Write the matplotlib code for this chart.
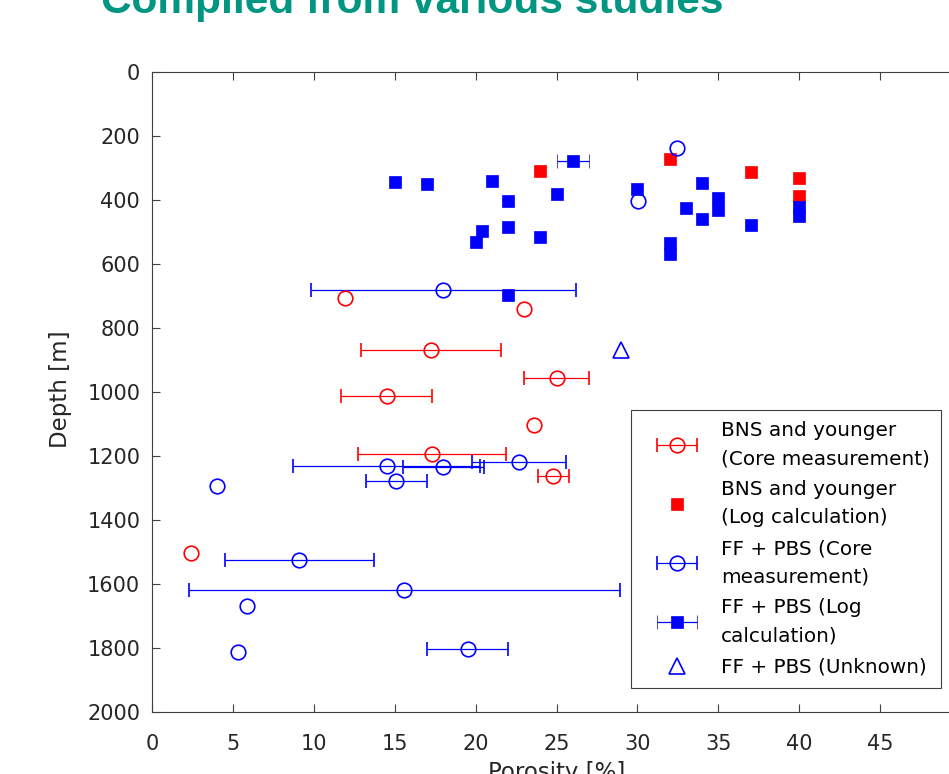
import numpy as np
import matplotlib
matplotlib.use("Agg")
import matplotlib.pyplot as plt
from matplotlib.legend_handler import HandlerErrorbar

plt.rcParams['font.family'] = ['DejaVu Sans']

nan = np.nan

# BNS and younger (Core measurement)
bns_core_x = [11.9, 23.0, 17.25, 25.0, 14.5, 23.6, 17.3, 24.8, 2.4]
bns_core_depth = [705, 742, 868, 955, 1012, 1102, 1193, 1262, 1504]
bns_core_xerr = [nan, nan, 4.35, 2.0, 2.8, nan, 4.55, 0.95, nan]

# BNS and younger (Log calculation)
bns_log_x = [24, 32, 37, 40, 40]
bns_log_depth = [310, 273, 313, 332, 386]

# FF + PBS (Core measurement)
ff_core_x = [32.45, 30.05, 18.0, 22.7, 14.5, 18.0, 15.1, 4.0, 9.1, 15.6, 5.85, 5.3, 19.5]
ff_core_depth = [238, 403, 681, 1218, 1230, 1235, 1277, 1294, 1525, 1620, 1669, 1811, 1803]
ff_core_xerr = [nan, nan, 8.2, 2.9, 5.8, 2.5, 1.9, nan, 4.6, 13.3, nan, nan, 2.5]

# FF + PBS (Log calculation)
ff_log_x = [15, 17, 21, 22, 25, 26, 20.4, 20, 22, 24, 30, 34, 33, 34, 35, 35, 37, 32, 32, 40, 40, 22]
ff_log_depth = [345, 350, 342, 402, 381, 277, 496, 532, 485, 516, 366, 347, 424, 458, 395, 430,
                479, 533, 570, 422, 451, 698]
ff_log_xerr = [nan, nan, nan, nan, nan, 1.0, nan, nan, nan, nan, nan, nan, nan, nan, nan, nan,
               nan, nan, nan, nan, nan, nan]

# FF + PBS (Unknown)
ff_unk_x = [29.0]
ff_unk_depth = [868]

labels = ["BNS and younger\n(Core measurement)",
          "BNS and younger\n(Log calculation)",
          "FF + PBS (Core\nmeasurement)",
          "FF + PBS (Log\ncalculation)",
          "FF + PBS (Unknown)"]

xticks = list(range(0, 51, 5))
yticks = list(range(0, 2001, 200))

RED = '#ff0000'
BLUE = '#0000ff'
AX = '#404040'
TXT = '#262626'

fig = plt.figure(figsize=(9.49, 7.74), dpi=100)
ax = fig.add_axes([152 / 949, (774 - 712) / 774, 809 / 949, 640 / 774])

eb_kw = dict(linestyle='none', elinewidth=0.9, capsize=5, capthick=0.9)

h1 = ax.errorbar(bns_core_x, bns_core_depth, xerr=bns_core_xerr, fmt='o', color=RED,
                 mfc='none', mec=RED, ms=10.5, mew=1.2, **eb_kw)
h2, = ax.plot(bns_log_x, bns_log_depth, 's', color=RED, ms=9.3, mew=0.5, linestyle='none')
h3 = ax.errorbar(ff_core_x, ff_core_depth, xerr=ff_core_xerr, fmt='o', color=BLUE,
                 mfc='none', mec=BLUE, ms=10.5, mew=1.2, **eb_kw)
h4 = ax.errorbar(ff_log_x, ff_log_depth, xerr=ff_log_xerr, fmt='s', color=BLUE,
                 mfc=BLUE, mec=BLUE, ms=9.3, mew=0.5, **eb_kw)
h5, = ax.plot(ff_unk_x, ff_unk_depth, '^', color=BLUE, mfc='none', mec=BLUE, ms=11, mew=1.2,
              linestyle='none')

ax.set_xlim(0, 50)
ax.set_ylim(2000, 0)
ax.set_xticks(xticks)
ax.set_yticks(yticks)

for s in ax.spines.values():
    s.set_color(AX)
    s.set_linewidth(0.8)

ax.tick_params(axis='both', direction='in', length=5.8, width=0.8, color=AX,
               labelcolor=TXT, labelsize=15, top=True, right=True)
ax.tick_params(axis='x', pad=15.8)
ax.tick_params(axis='y', pad=8.5)

ax.set_xlabel("Porosity [%]", fontsize=16.5, color=TXT)
ax.xaxis.set_label_coords(0.5, -0.077)
ax.set_ylabel("Depth [m]", fontsize=16.5, color=TXT)
ax.yaxis.set_label_coords(-0.099, 0.505)

leg = ax.legend([h1, h2, h3, h4, h5], labels, loc='upper left',
                bbox_to_anchor=(0.5926, 0.472), borderaxespad=0,
                fontsize=14.4, frameon=True, fancybox=False, framealpha=1,
                edgecolor=AX, borderpad=0.55, handlelength=3.45, handletextpad=0.48,
                labelspacing=0.6, numpoints=1,
                handler_map={type(h1): HandlerErrorbar(xerr_size=1.0)})
leg.get_frame().set_linewidth(0.8)
for t in leg.get_texts():
    t.set_linespacing(1.61)
    t.set_color('#000000')

fig.text(101 / 949, 1 - 13 / 774, "Compiled from various studies", ha='left', va='baseline',
         fontsize=30.5, fontweight='bold', color='#009682', family='Liberation Sans')

fig.savefig("out.png", dpi=100)
